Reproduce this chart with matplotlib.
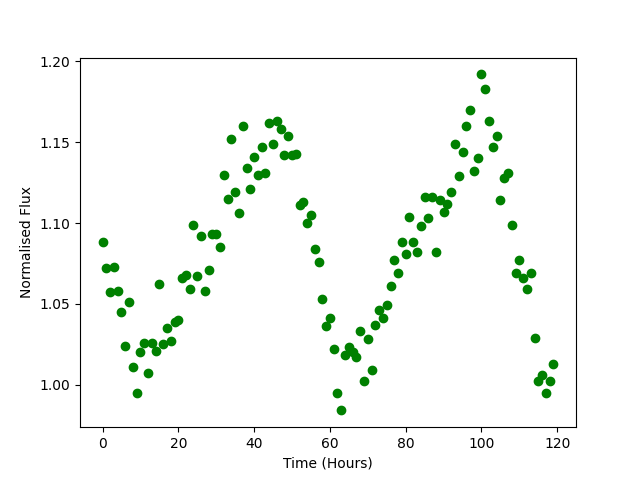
import matplotlib
matplotlib.use("Agg")
import matplotlib.pyplot as plt
import numpy as np

time_hours = list(range(120))
flux = [
    1.088, 1.072, 1.057, 1.073, 1.058, 1.045, 1.024, 1.051, 1.011, 0.995,
    1.020, 1.026, 1.007, 1.026, 1.021, 1.062, 1.025, 1.035, 1.027, 1.039,
    1.040, 1.066, 1.068, 1.059, 1.099, 1.067, 1.092, 1.058, 1.071, 1.093,
    1.093, 1.085, 1.130, 1.115, 1.152, 1.119, 1.106, 1.160, 1.134, 1.121,
    1.141, 1.130, 1.147, 1.131, 1.162, 1.149, 1.163, 1.158, 1.142, 1.154,
    1.142, 1.143, 1.111, 1.113, 1.100, 1.105, 1.084, 1.076, 1.053, 1.036,
    1.041, 1.022, 0.995, 0.984, 1.018, 1.023, 1.020, 1.017, 1.033, 1.002,
    1.028, 1.009, 1.037, 1.046, 1.041, 1.049, 1.061, 1.077, 1.069, 1.088,
    1.081, 1.104, 1.088, 1.082, 1.098, 1.116, 1.103, 1.116, 1.082, 1.114,
    1.107, 1.112, 1.119, 1.149, 1.129, 1.144, 1.160, 1.170, 1.132, 1.140,
    1.192, 1.183, 1.163, 1.147, 1.154, 1.114, 1.128, 1.131, 1.099, 1.069,
    1.077, 1.066, 1.059, 1.069, 1.029, 1.002, 1.006, 0.995, 1.002, 1.013,
]

fig, ax = plt.subplots(figsize=(6.4, 4.8), dpi=100)
ax.plot(time_hours, flux, 'o', color='green')
ax.set_xlabel('Time (Hours)')
ax.set_ylabel('Normalised Flux')
fig.savefig('out.png')
